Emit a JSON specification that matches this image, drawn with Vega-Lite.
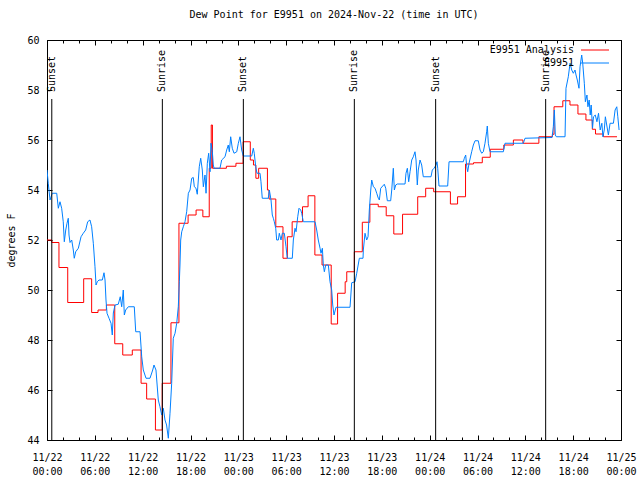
{
"$schema": "https://vega.github.io/schema/vega-lite/v6.json",
"width": 574, "height": 400,
"autosize": {"type": "none"},
"padding": {"left": 47, "top": 40, "right": 19, "bottom": 40},
"background": "white",
"title": {"text": "Dew Point for E9951 on 2024-Nov-22 (time in UTC)", "font": "DejaVu Sans Mono", "fontSize": 10, "fontWeight": "normal", "color": "black", "offset": 15, "anchor": "middle"},
"datasets": {
"analysis": [
{"hours_utc":0,"dewpoint_F":52.0},{"hours_utc":0.6,"dewpoint_F":51.9},{"hours_utc":1.5,"dewpoint_F":50.9},{"hours_utc":2.6,"dewpoint_F":49.5},{"hours_utc":4.6,"dewpoint_F":50.45},{"hours_utc":5.6,"dewpoint_F":49.1},{"hours_utc":6.4,"dewpoint_F":49.2},{"hours_utc":7.45,"dewpoint_F":49.4},{"hours_utc":8.5,"dewpoint_F":47.85},{"hours_utc":9.5,"dewpoint_F":47.4},{"hours_utc":10.7,"dewpoint_F":47.6},{"hours_utc":11.8,"dewpoint_F":46.27},{"hours_utc":12.5,"dewpoint_F":45.64},{"hours_utc":13.6,"dewpoint_F":44.4},{"hours_utc":14.45,"dewpoint_F":46.27},{"hours_utc":15.55,"dewpoint_F":48.69},{"hours_utc":16.55,"dewpoint_F":52.67},{"hours_utc":17.7,"dewpoint_F":53.0},{"hours_utc":18.7,"dewpoint_F":53.2},{"hours_utc":19.55,"dewpoint_F":52.93},{"hours_utc":20.35,"dewpoint_F":54.87},{"hours_utc":20.6,"dewpoint_F":56.6},{"hours_utc":20.75,"dewpoint_F":54.87},{"hours_utc":22.5,"dewpoint_F":54.95},{"hours_utc":23.7,"dewpoint_F":55.07},{"hours_utc":24.6,"dewpoint_F":55.93},{"hours_utc":25.5,"dewpoint_F":55.2},{"hours_utc":25.9,"dewpoint_F":55.0},{"hours_utc":26.2,"dewpoint_F":54.47},{"hours_utc":26.55,"dewpoint_F":54.87},{"hours_utc":27.65,"dewpoint_F":54.0},{"hours_utc":27.85,"dewpoint_F":53.64},{"hours_utc":28.7,"dewpoint_F":52.53},{"hours_utc":29.6,"dewpoint_F":51.27},{"hours_utc":30.15,"dewpoint_F":52.13},{"hours_utc":30.75,"dewpoint_F":52.73},{"hours_utc":32.05,"dewpoint_F":53.33},{"hours_utc":32.75,"dewpoint_F":53.77},{"hours_utc":33.6,"dewpoint_F":51.4},{"hours_utc":34.5,"dewpoint_F":51.0},{"hours_utc":35.65,"dewpoint_F":48.64},{"hours_utc":36.45,"dewpoint_F":49.87},{"hours_utc":37.4,"dewpoint_F":50.33},{"hours_utc":37.6,"dewpoint_F":50.73},{"hours_utc":38.55,"dewpoint_F":51.53},{"hours_utc":39.55,"dewpoint_F":52.71},{"hours_utc":40.5,"dewpoint_F":53.43},{"hours_utc":41.55,"dewpoint_F":53.33},{"hours_utc":42.55,"dewpoint_F":52.97},{"hours_utc":43.5,"dewpoint_F":52.24},{"hours_utc":44.6,"dewpoint_F":53.03},{"hours_utc":46.5,"dewpoint_F":53.73},{"hours_utc":47.5,"dewpoint_F":54.07},{"hours_utc":48.5,"dewpoint_F":53.93},{"hours_utc":50.6,"dewpoint_F":53.44},{"hours_utc":51.5,"dewpoint_F":53.73},{"hours_utc":52.5,"dewpoint_F":55.04},{"hours_utc":53.5,"dewpoint_F":55.09},{"hours_utc":54.6,"dewpoint_F":55.31},{"hours_utc":55.6,"dewpoint_F":55.63},{"hours_utc":57.3,"dewpoint_F":55.8},{"hours_utc":58.5,"dewpoint_F":56.0},{"hours_utc":59.7,"dewpoint_F":55.87},{"hours_utc":61.7,"dewpoint_F":56.13},{"hours_utc":63.4,"dewpoint_F":56.23},{"hours_utc":63.6,"dewpoint_F":57.33},{"hours_utc":64.7,"dewpoint_F":57.57},{"hours_utc":65.6,"dewpoint_F":57.4},{"hours_utc":66.6,"dewpoint_F":57.04},{"hours_utc":67.6,"dewpoint_F":56.8},{"hours_utc":68.4,"dewpoint_F":56.43},{"hours_utc":68.8,"dewpoint_F":56.24},{"hours_utc":69.8,"dewpoint_F":56.13},{"hours_utc":71.5,"dewpoint_F":56.13}
],
"obs": [
{"hours_utc":0,"dewpoint_F":54.8},{"hours_utc":0.16,"dewpoint_F":54.27},{"hours_utc":0.38,"dewpoint_F":53.6},{"hours_utc":0.66,"dewpoint_F":53.87},{"hours_utc":1.22,"dewpoint_F":53.87},{"hours_utc":1.42,"dewpoint_F":53.27},{"hours_utc":1.63,"dewpoint_F":53.53},{"hours_utc":1.84,"dewpoint_F":53.27},{"hours_utc":2.04,"dewpoint_F":52.73},{"hours_utc":2.17,"dewpoint_F":51.93},{"hours_utc":2.35,"dewpoint_F":52.4},{"hours_utc":2.51,"dewpoint_F":52.67},{"hours_utc":2.67,"dewpoint_F":52.87},{"hours_utc":2.76,"dewpoint_F":52.2},{"hours_utc":2.89,"dewpoint_F":51.9},{"hours_utc":3.1,"dewpoint_F":52.0},{"hours_utc":3.3,"dewpoint_F":51.6},{"hours_utc":3.42,"dewpoint_F":51.27},{"hours_utc":3.6,"dewpoint_F":51.53},{"hours_utc":3.93,"dewpoint_F":51.67},{"hours_utc":4.27,"dewpoint_F":52.13},{"hours_utc":4.55,"dewpoint_F":52.27},{"hours_utc":4.85,"dewpoint_F":52.4},{"hours_utc":5.1,"dewpoint_F":52.73},{"hours_utc":5.39,"dewpoint_F":52.8},{"hours_utc":5.6,"dewpoint_F":52.53},{"hours_utc":5.81,"dewpoint_F":51.87},{"hours_utc":6.02,"dewpoint_F":50.93},{"hours_utc":6.15,"dewpoint_F":50.2},{"hours_utc":6.31,"dewpoint_F":50.33},{"hours_utc":6.52,"dewpoint_F":50.4},{"hours_utc":6.94,"dewpoint_F":50.4},{"hours_utc":7.15,"dewpoint_F":50.69},{"hours_utc":7.28,"dewpoint_F":50.4},{"hours_utc":7.4,"dewpoint_F":49.6},{"hours_utc":7.53,"dewpoint_F":49.07},{"hours_utc":7.78,"dewpoint_F":48.87},{"hours_utc":8.03,"dewpoint_F":48.67},{"hours_utc":8.19,"dewpoint_F":48.2},{"hours_utc":8.32,"dewpoint_F":49.08},{"hours_utc":8.53,"dewpoint_F":49.4},{"hours_utc":8.94,"dewpoint_F":49.43},{"hours_utc":9.19,"dewpoint_F":49.73},{"hours_utc":9.37,"dewpoint_F":49.33},{"hours_utc":9.57,"dewpoint_F":50.0},{"hours_utc":9.7,"dewpoint_F":49.0},{"hours_utc":9.87,"dewpoint_F":49.2},{"hours_utc":10.2,"dewpoint_F":49.33},{"hours_utc":10.95,"dewpoint_F":49.33},{"hours_utc":11.13,"dewpoint_F":48.33},{"hours_utc":11.67,"dewpoint_F":48.33},{"hours_utc":11.88,"dewpoint_F":47.33},{"hours_utc":12.08,"dewpoint_F":46.8},{"hours_utc":12.42,"dewpoint_F":46.47},{"hours_utc":12.92,"dewpoint_F":46.47},{"hours_utc":13.26,"dewpoint_F":46.8},{"hours_utc":13.42,"dewpoint_F":47.0},{"hours_utc":13.67,"dewpoint_F":46.8},{"hours_utc":13.96,"dewpoint_F":45.6},{"hours_utc":14.17,"dewpoint_F":45.33},{"hours_utc":14.39,"dewpoint_F":45.0},{"hours_utc":14.59,"dewpoint_F":45.27},{"hours_utc":14.8,"dewpoint_F":44.8},{"hours_utc":15.0,"dewpoint_F":44.6},{"hours_utc":15.22,"dewpoint_F":44.07},{"hours_utc":15.43,"dewpoint_F":45.07},{"hours_utc":15.64,"dewpoint_F":46.27},{"hours_utc":15.84,"dewpoint_F":48.07},{"hours_utc":16.06,"dewpoint_F":48.27},{"hours_utc":16.27,"dewpoint_F":48.67},{"hours_utc":16.47,"dewpoint_F":49.33},{"hours_utc":16.6,"dewpoint_F":50.33},{"hours_utc":16.68,"dewpoint_F":51.0},{"hours_utc":16.77,"dewpoint_F":52.0},{"hours_utc":16.9,"dewpoint_F":52.33},{"hours_utc":17.1,"dewpoint_F":52.53},{"hours_utc":17.31,"dewpoint_F":52.73},{"hours_utc":17.52,"dewpoint_F":53.13},{"hours_utc":17.73,"dewpoint_F":53.87},{"hours_utc":17.94,"dewpoint_F":54.0},{"hours_utc":18.15,"dewpoint_F":54.47},{"hours_utc":18.35,"dewpoint_F":54.5},{"hours_utc":18.48,"dewpoint_F":54.13},{"hours_utc":18.69,"dewpoint_F":54.07},{"hours_utc":18.85,"dewpoint_F":53.83},{"hours_utc":19.1,"dewpoint_F":54.93},{"hours_utc":19.28,"dewpoint_F":55.27},{"hours_utc":19.48,"dewpoint_F":54.8},{"hours_utc":19.61,"dewpoint_F":54.13},{"hours_utc":19.82,"dewpoint_F":54.6},{"hours_utc":19.95,"dewpoint_F":53.87},{"hours_utc":20.11,"dewpoint_F":55.07},{"hours_utc":20.28,"dewpoint_F":55.47},{"hours_utc":20.45,"dewpoint_F":54.73},{"hours_utc":20.57,"dewpoint_F":55.87},{"hours_utc":20.74,"dewpoint_F":55.53},{"hours_utc":20.86,"dewpoint_F":55.0},{"hours_utc":20.95,"dewpoint_F":54.87},{"hours_utc":21.7,"dewpoint_F":54.87},{"hours_utc":21.91,"dewpoint_F":55.2},{"hours_utc":22.33,"dewpoint_F":55.33},{"hours_utc":22.54,"dewpoint_F":55.6},{"hours_utc":22.74,"dewpoint_F":55.8},{"hours_utc":22.87,"dewpoint_F":55.53},{"hours_utc":23.04,"dewpoint_F":56.13},{"hours_utc":23.24,"dewpoint_F":55.67},{"hours_utc":23.46,"dewpoint_F":55.47},{"hours_utc":23.8,"dewpoint_F":55.53},{"hours_utc":24.0,"dewpoint_F":55.87},{"hours_utc":24.21,"dewpoint_F":56.13},{"hours_utc":24.42,"dewpoint_F":55.6},{"hours_utc":24.62,"dewpoint_F":55.36},{"hours_utc":25.68,"dewpoint_F":55.36},{"hours_utc":25.88,"dewpoint_F":55.67},{"hours_utc":26.0,"dewpoint_F":55.47},{"hours_utc":26.18,"dewpoint_F":54.93},{"hours_utc":26.34,"dewpoint_F":54.67},{"hours_utc":26.72,"dewpoint_F":54.67},{"hours_utc":26.84,"dewpoint_F":54.33},{"hours_utc":27.0,"dewpoint_F":53.67},{"hours_utc":27.76,"dewpoint_F":53.67},{"hours_utc":27.89,"dewpoint_F":54.0},{"hours_utc":28.1,"dewpoint_F":53.6},{"hours_utc":28.26,"dewpoint_F":53.0},{"hours_utc":28.39,"dewpoint_F":52.87},{"hours_utc":28.51,"dewpoint_F":52.73},{"hours_utc":28.69,"dewpoint_F":52.47},{"hours_utc":28.81,"dewpoint_F":52.0},{"hours_utc":29.02,"dewpoint_F":52.0},{"hours_utc":29.14,"dewpoint_F":52.27},{"hours_utc":29.35,"dewpoint_F":52.0},{"hours_utc":29.52,"dewpoint_F":52.27},{"hours_utc":29.77,"dewpoint_F":52.27},{"hours_utc":29.98,"dewpoint_F":51.73},{"hours_utc":30.14,"dewpoint_F":51.27},{"hours_utc":30.77,"dewpoint_F":51.27},{"hours_utc":30.9,"dewpoint_F":52.0},{"hours_utc":31.11,"dewpoint_F":52.47},{"hours_utc":31.24,"dewpoint_F":52.33},{"hours_utc":31.45,"dewpoint_F":52.93},{"hours_utc":31.61,"dewpoint_F":53.27},{"hours_utc":31.83,"dewpoint_F":53.2},{"hours_utc":31.95,"dewpoint_F":53.07},{"hours_utc":32.15,"dewpoint_F":52.73},{"hours_utc":33.62,"dewpoint_F":52.73},{"hours_utc":33.83,"dewpoint_F":52.4},{"hours_utc":34.03,"dewpoint_F":52.0},{"hours_utc":34.25,"dewpoint_F":51.67},{"hours_utc":34.37,"dewpoint_F":51.47},{"hours_utc":34.54,"dewpoint_F":51.67},{"hours_utc":34.66,"dewpoint_F":51.0},{"hours_utc":34.79,"dewpoint_F":50.73},{"hours_utc":34.96,"dewpoint_F":51.0},{"hours_utc":35.29,"dewpoint_F":51.0},{"hours_utc":35.5,"dewpoint_F":50.33},{"hours_utc":35.71,"dewpoint_F":50.0},{"hours_utc":35.84,"dewpoint_F":49.4},{"hours_utc":36.0,"dewpoint_F":49.0},{"hours_utc":36.25,"dewpoint_F":49.31},{"hours_utc":38.01,"dewpoint_F":49.31},{"hours_utc":38.22,"dewpoint_F":50.29},{"hours_utc":38.64,"dewpoint_F":50.33},{"hours_utc":38.85,"dewpoint_F":50.67},{"hours_utc":39.18,"dewpoint_F":51.27},{"hours_utc":39.64,"dewpoint_F":51.27},{"hours_utc":39.68,"dewpoint_F":51.6},{"hours_utc":39.89,"dewpoint_F":52.27},{"hours_utc":40.1,"dewpoint_F":52.0},{"hours_utc":40.27,"dewpoint_F":52.13},{"hours_utc":40.43,"dewpoint_F":53.2},{"hours_utc":40.61,"dewpoint_F":54.0},{"hours_utc":40.73,"dewpoint_F":54.4},{"hours_utc":40.94,"dewpoint_F":54.13},{"hours_utc":41.15,"dewpoint_F":54.07},{"hours_utc":41.36,"dewpoint_F":53.87},{"hours_utc":41.56,"dewpoint_F":53.67},{"hours_utc":41.69,"dewpoint_F":53.6},{"hours_utc":41.86,"dewpoint_F":54.07},{"hours_utc":42.31,"dewpoint_F":54.23},{"hours_utc":42.49,"dewpoint_F":54.07},{"hours_utc":42.69,"dewpoint_F":53.57},{"hours_utc":43.11,"dewpoint_F":53.57},{"hours_utc":43.24,"dewpoint_F":54.0},{"hours_utc":43.44,"dewpoint_F":54.87},{"hours_utc":43.57,"dewpoint_F":54.0},{"hours_utc":43.74,"dewpoint_F":54.2},{"hours_utc":43.94,"dewpoint_F":54.24},{"hours_utc":44.91,"dewpoint_F":54.24},{"hours_utc":45.03,"dewpoint_F":54.67},{"hours_utc":45.2,"dewpoint_F":54.87},{"hours_utc":45.37,"dewpoint_F":54.33},{"hours_utc":45.54,"dewpoint_F":54.73},{"hours_utc":45.75,"dewpoint_F":55.2},{"hours_utc":45.95,"dewpoint_F":55.33},{"hours_utc":46.16,"dewpoint_F":55.53},{"hours_utc":46.29,"dewpoint_F":55.2},{"hours_utc":46.45,"dewpoint_F":54.2},{"hours_utc":46.57,"dewpoint_F":54.8},{"hours_utc":46.79,"dewpoint_F":55.2},{"hours_utc":47.0,"dewpoint_F":55.0},{"hours_utc":47.2,"dewpoint_F":54.53},{"hours_utc":48.17,"dewpoint_F":54.53},{"hours_utc":48.33,"dewpoint_F":54.8},{"hours_utc":48.55,"dewpoint_F":54.87},{"hours_utc":48.8,"dewpoint_F":55.0},{"hours_utc":48.92,"dewpoint_F":55.13},{"hours_utc":49.01,"dewpoint_F":54.87},{"hours_utc":49.17,"dewpoint_F":54.16},{"hours_utc":50.26,"dewpoint_F":54.16},{"hours_utc":50.43,"dewpoint_F":55.13},{"hours_utc":52.22,"dewpoint_F":55.13},{"hours_utc":52.35,"dewpoint_F":55.27},{"hours_utc":52.52,"dewpoint_F":55.4},{"hours_utc":52.65,"dewpoint_F":54.93},{"hours_utc":52.77,"dewpoint_F":54.73},{"hours_utc":52.94,"dewpoint_F":55.07},{"hours_utc":53.27,"dewpoint_F":55.53},{"hours_utc":53.48,"dewpoint_F":55.8},{"hours_utc":53.69,"dewpoint_F":55.97},{"hours_utc":54.1,"dewpoint_F":55.97},{"hours_utc":54.32,"dewpoint_F":55.6},{"hours_utc":54.53,"dewpoint_F":55.47},{"hours_utc":54.73,"dewpoint_F":55.53},{"hours_utc":54.94,"dewpoint_F":55.87},{"hours_utc":55.15,"dewpoint_F":56.33},{"hours_utc":55.23,"dewpoint_F":56.56},{"hours_utc":55.36,"dewpoint_F":55.87},{"hours_utc":55.57,"dewpoint_F":55.53},{"hours_utc":57.24,"dewpoint_F":55.53},{"hours_utc":57.45,"dewpoint_F":55.87},{"hours_utc":59.75,"dewpoint_F":55.87},{"hours_utc":59.96,"dewpoint_F":56.07},{"hours_utc":63.35,"dewpoint_F":56.1},{"hours_utc":63.51,"dewpoint_F":56.53},{"hours_utc":63.64,"dewpoint_F":57.2},{"hours_utc":63.76,"dewpoint_F":56.2},{"hours_utc":63.89,"dewpoint_F":56.13},{"hours_utc":64.98,"dewpoint_F":56.13},{"hours_utc":65.1,"dewpoint_F":58.07},{"hours_utc":65.39,"dewpoint_F":58.53},{"hours_utc":65.61,"dewpoint_F":59.07},{"hours_utc":65.82,"dewpoint_F":58.8},{"hours_utc":66.02,"dewpoint_F":58.67},{"hours_utc":66.23,"dewpoint_F":58.8},{"hours_utc":66.36,"dewpoint_F":58.6},{"hours_utc":66.52,"dewpoint_F":58.4},{"hours_utc":66.73,"dewpoint_F":58.07},{"hours_utc":66.86,"dewpoint_F":58.93},{"hours_utc":67.07,"dewpoint_F":59.4},{"hours_utc":67.2,"dewpoint_F":59.07},{"hours_utc":67.4,"dewpoint_F":58.27},{"hours_utc":67.53,"dewpoint_F":57.53},{"hours_utc":67.73,"dewpoint_F":57.8},{"hours_utc":67.85,"dewpoint_F":57.33},{"hours_utc":68.01,"dewpoint_F":57.6},{"hours_utc":68.14,"dewpoint_F":57.0},{"hours_utc":68.26,"dewpoint_F":57.4},{"hours_utc":68.43,"dewpoint_F":56.47},{"hours_utc":68.55,"dewpoint_F":56.93},{"hours_utc":68.77,"dewpoint_F":57.0},{"hours_utc":68.98,"dewpoint_F":56.73},{"hours_utc":69.18,"dewpoint_F":57.07},{"hours_utc":69.39,"dewpoint_F":56.4},{"hours_utc":69.6,"dewpoint_F":56.67},{"hours_utc":69.73,"dewpoint_F":56.13},{"hours_utc":69.9,"dewpoint_F":56.4},{"hours_utc":70.04,"dewpoint_F":56.93},{"hours_utc":70.21,"dewpoint_F":56.6},{"hours_utc":70.42,"dewpoint_F":56.2},{"hours_utc":70.63,"dewpoint_F":56.67},{"hours_utc":71.05,"dewpoint_F":56.67},{"hours_utc":71.26,"dewpoint_F":57.2},{"hours_utc":71.47,"dewpoint_F":57.33},{"hours_utc":71.6,"dewpoint_F":56.93},{"hours_utc":71.76,"dewpoint_F":56.4}
],
"sun_events": [
{"hours_utc":0.6,"event":"Sunset"},{"hours_utc":14.47,"event":"Sunrise"},{"hours_utc":24.63,"event":"Sunset"},{"hours_utc":38.55,"event":"Sunrise"},{"hours_utc":48.75,"event":"Sunset"},{"hours_utc":62.55,"event":"Sunrise"}
]
},
"layer": [
{
"data": {"name": "analysis"},
"mark": {"type": "line", "interpolate": "step-after", "strokeWidth": 1, "clip": true},
"encoding": {
"x": {"field": "hours_utc", "type": "quantitative", "scale": {"domain": [0, 72], "nice": false, "zero": false},
 "axis": {"orient": "bottom", "values": [0,6,12,18,24,30,36,42,48,54,60,66,72], "tickSize": -5, "labelPadding": 17, "title": null, "labelLineHeight": 14,
 "labelExpr": "['11/' + (22 + floor(datum.value / 24)), (datum.value % 24 < 10 ? '0' : '') + (datum.value % 24) + ':00']"}},
"y": {"field": "dewpoint_F", "type": "quantitative", "scale": {"domain": [44, 60], "nice": false, "zero": false},
 "axis": {"orient": "left", "values": [44,46,48,50,52,54,56,58,60], "tickSize": -5, "labelPadding": 13, "title": "degrees F", "titlePadding": 10}},
"color": {"datum": "E9951 Analysis", "type": "nominal", "scale": {"domain": ["E9951 Analysis", "E9951"], "range": ["#ff0000", "#0080ff"]},
 "legend": {"orient": "none", "legendX": 534, "legendY": 5, "title": null, "padding": 0, "symbolType": "M-14,0H14", "symbolSize": 4, "symbolStrokeWidth": 1, "symbolOffset": 9, "rowPadding": 3, "labelAlign": "right", "labelOffset": -26, "labelFont": "DejaVu Sans Mono", "labelFontSize": 10, "labelColor": "black"}}
}
},
{
"data": {"name": "obs"},
"mark": {"type": "line", "strokeWidth": 1, "clip": true},
"encoding": {
"x": {"field": "hours_utc", "type": "quantitative", "scale": {"domain": [0, 72], "nice": false, "zero": false},
 "axis": {"orient": "top", "values": [0,6,12,18,24,30,36,42,48,54,60,66,72], "tickSize": -5, "labels": false, "title": null}},
"y": {"field": "dewpoint_F", "type": "quantitative", "scale": {"domain": [44, 60], "nice": false, "zero": false},
 "axis": {"orient": "right", "values": [44,46,48,50,52,54,56,58,60], "tickSize": -5, "labels": false, "title": null}},
"color": {"datum": "E9951", "type": "nominal"}
}
},
{
"data": {"name": "sun_events"},
"mark": {"type": "rule", "color": "black", "strokeWidth": 1},
"encoding": {
"x": {"field": "hours_utc", "type": "quantitative", "scale": {"domain": [0, 72], "nice": false, "zero": false},
 "axis": {"orient": "bottom", "values": [0,2,4,6,8,10,12,14,16,18,20,22,24,26,28,30,32,34,36,38,40,42,44,46,48,50,52,54,56,58,60,62,64,66,68,70,72], "tickSize": -3, "labels": false, "title": null}},
"y": {"datum": 57.64, "type": "quantitative", "scale": {"domain": [44, 60], "nice": false, "zero": false}, "axis": null},
"y2": {"datum": 44}
}
},
{
"data": {"name": "sun_events"},
"mark": {"type": "text", "angle": 270, "align": "left", "baseline": "middle", "font": "DejaVu Sans Mono", "fontSize": 10, "color": "black"},
"encoding": {
"x": {"field": "hours_utc", "type": "quantitative", "scale": {"domain": [0, 72], "nice": false, "zero": false},
 "axis": {"orient": "top", "values": [0,2,4,6,8,10,12,14,16,18,20,22,24,26,28,30,32,34,36,38,40,42,44,46,48,50,52,54,56,58,60,62,64,66,68,70,72], "tickSize": -3, "labels": false, "title": null}},
"y": {"datum": 57.92, "type": "quantitative", "scale": {"domain": [44, 60], "nice": false, "zero": false}, "axis": null},
"text": {"field": "event"}
}
}
],
"resolve": {"axis": {"x": "independent", "y": "independent"}},
"config": {
"view": {"stroke": "black", "strokeWidth": 1},
"axis": {"domain": false, "grid": false, "labelFont": "DejaVu Sans Mono", "labelFontSize": 10, "labelColor": "black", "tickColor": "black", "tickWidth": 1, "titleFont": "DejaVu Sans Mono", "titleFontSize": 10, "titleFontWeight": "normal", "titleColor": "black", "labelOverlap": false, "labelFlush": false}
}
}
